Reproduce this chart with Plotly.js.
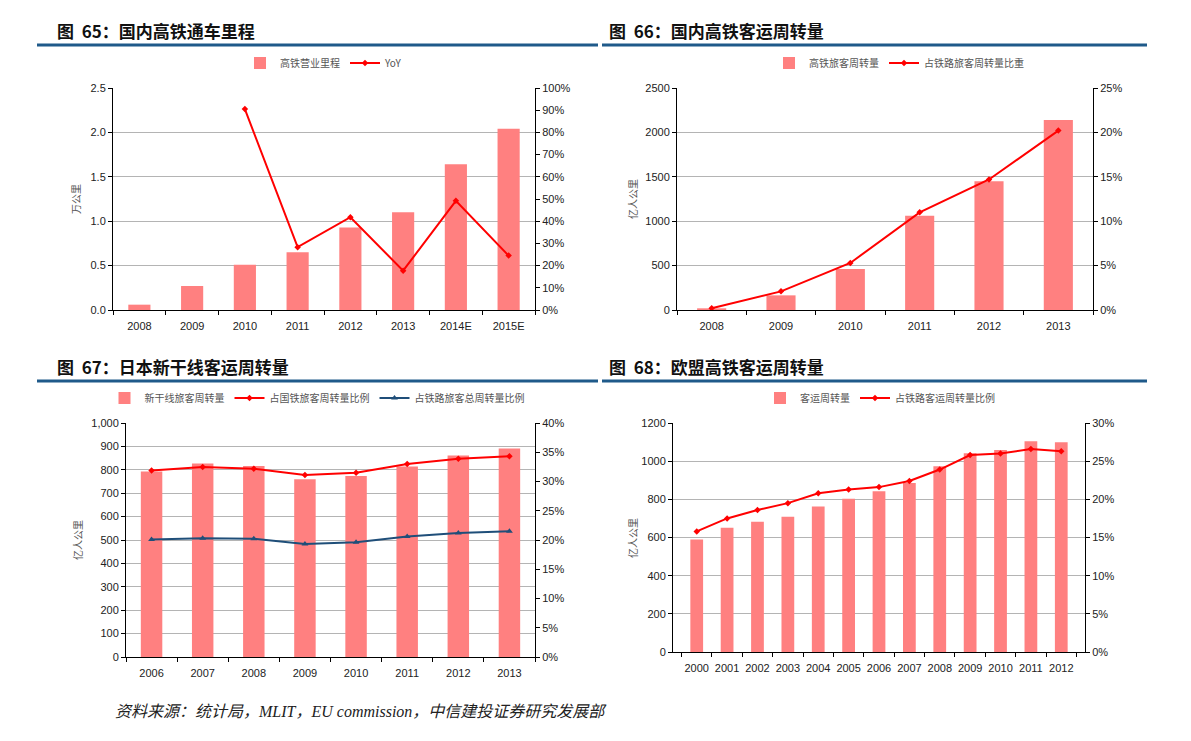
<!DOCTYPE html>
<html>
<head>
<meta charset="utf-8">
<script src="https://cdn.plot.ly/plotly-3.0.1.min.js"></script>
<style>
html,body{margin:0;padding:0;background:#fff;}
#chart{width:1191px;height:741px;}
</style>
</head>
<body>
<div id="chart"></div>
<script>
// ---------- Data ----------
const c65Years = ['2008','2009','2010','2011','2012','2013','2014E','2015E'];
const c65Mileage = [0.06, 0.27, 0.51, 0.65, 0.93, 1.10, 1.64, 2.04];
const c65YoY = [null, null, 90.5, 28.3, 41.8, 17.7, 49.2, 24.5];

const c66Years = ['2008','2009','2010','2011','2012','2013'];
const c66PKM = [19, 165, 462, 1060, 1451, 2139];
const c66Share = [0.2, 2.1, 5.3, 11.0, 14.7, 20.2];

const c67Years = ['2006','2007','2008','2009','2010','2011','2012','2013'];
const c67PKM = [793, 827, 816, 760, 774, 814, 861, 891];
const c67ShareJR = [31.9, 32.5, 32.2, 31.1, 31.5, 33.0, 33.9, 34.3];
const c67ShareRail = [20.1, 20.3, 20.2, 19.3, 19.6, 20.6, 21.2, 21.5];

const c68Years = ['2000','2001','2002','2003','2004','2005','2006','2007','2008','2009','2010','2011','2012'];
const c68PKM = [590, 651, 683, 709, 763, 803, 843, 886, 974, 1041, 1059, 1104, 1099];
const c68Share = [15.8, 17.5, 18.6, 19.5, 20.8, 21.3, 21.6, 22.4, 23.9, 25.8, 26.0, 26.6, 26.3];

// ---------- Helpers ----------
const W = 1191, H = 741;
const px = v => v / W;
const py = v => 1 - v / H;
const xd = (a, b) => [a / W, b / W];
const yd = (top, bot) => [1 - bot / H, 1 - top / H];

const BAR = '#FF8080', RED = '#FF0000', BLUE = '#1F4E79';
const tickFont = {family: 'Liberation Sans, Arial, sans-serif', size: 11, color: '#222'};
const cjk = 'Noto Sans CJK SC, sans-serif';

function xAx(dom, anchor) {
  return {domain: dom, anchor: anchor, type: 'category', showline: true, linecolor: '#000', linewidth: 1,
    ticks: 'outside', tickson: 'boundaries', ticklen: 4, tickcolor: '#000', ticklabelstandoff: 6,
    tickangle: 0, showgrid: false, zeroline: false, tickfont: tickFont, fixedrange: true};
}
function leftY(dom, anchor, range, dtick, fmt) {
  return {domain: dom, anchor: anchor, range: range, dtick: dtick, tick0: 0, tickformat: fmt,
    showline: true, linecolor: '#000', linewidth: 1, ticks: 'outside', ticklen: 4, tickcolor: '#000',
    showgrid: true, gridcolor: '#b4b4b4', gridwidth: 1, zeroline: false, tickfont: tickFont, fixedrange: true};
}
function rightY(overlay, anchor, range, dtick) {
  return {overlaying: overlay, anchor: anchor, side: 'right', range: range, dtick: dtick, tick0: 0,
    ticksuffix: '%', showline: true, linecolor: '#000', linewidth: 1, ticks: 'outside', ticklen: 4,
    tickcolor: '#000', showgrid: false, zeroline: false, tickfont: tickFont, fixedrange: true};
}
function legendAt(xc, yc) {
  return {orientation: 'h', x: xc, y: yc, xanchor: 'center', yanchor: 'middle', xref: 'paper', yref: 'paper',
    font: {family: cjk, size: 10, color: '#555'}, bgcolor: 'rgba(0,0,0,0)', itemwidth: 30,
    traceorder: 'normal', tracegroupgap: 0};
}
function barTr(x, y, name, xa, ya, lg) {
  return {type: 'bar', x: x, y: y, name: name, xaxis: xa, yaxis: ya, legend: lg,
    marker: {color: BAR, line: {width: 0}}, hoverinfo: 'skip'};
}
function lineTr(x, y, name, xa, ya, lg, color, sym, msize) {
  return {type: 'scatter', mode: 'lines+markers', x: x, y: y, name: name, xaxis: xa, yaxis: ya, legend: lg,
    line: {color: color, width: 2}, marker: {color: color, symbol: sym, size: msize},
    connectgaps: false, hoverinfo: 'skip'};
}

const traces = [
  barTr(c65Years, c65Mileage, '高铁营业里程', 'x', 'y', 'legend'),
  lineTr(c65Years, c65YoY, 'YoY', 'x', 'y2', 'legend', RED, 'diamond', 5),

  barTr(c66Years, c66PKM, '高铁旅客周转量', 'x2', 'y3', 'legend2'),
  lineTr(c66Years, c66Share, '占铁路旅客周转量比重', 'x2', 'y4', 'legend2', RED, 'diamond', 5),

  barTr(c67Years, c67PKM, '新干线旅客周转量', 'x3', 'y5', 'legend3'),
  lineTr(c67Years, c67ShareJR, '占国铁旅客周转量比例', 'x3', 'y6', 'legend3', RED, 'diamond', 5),
  lineTr(c67Years, c67ShareRail, '占铁路旅客总周转量比例', 'x3', 'y6', 'legend3', BLUE, 'triangle-up', 6),

  barTr(c68Years, c68PKM, '客运周转量', 'x4', 'y7', 'legend4'),
  lineTr(c68Years, c68Share, '占铁路客运周转量比例', 'x4', 'y8', 'legend4', RED, 'diamond', 5)
];

function titleAnn(text, x, y) {
  return {text: text, x: px(x), y: py(y), xref: 'paper', yref: 'paper', xanchor: 'left', yanchor: 'middle',
    showarrow: false, font: {family: cjk, size: 17, color: '#111', weight: 'bold'}};
}
function yTitleAnn(text, x, y) {
  return {text: text, x: px(x), y: py(y), xref: 'paper', yref: 'paper', xanchor: 'center', yanchor: 'middle',
    textangle: -90, showarrow: false, font: {family: cjk, size: 10, color: '#555'}};
}
function blueLine(x0, x1, y) {
  return {type: 'line', xref: 'paper', yref: 'paper', x0: px(x0), x1: px(x1), y0: py(y), y1: py(y),
    line: {color: '#1F5A8A', width: 3}};
}

const layout = {
  width: W, height: H, margin: {l: 0, r: 0, t: 0, b: 0}, paper_bgcolor: '#fff', plot_bgcolor: '#fff',
  bargap: 0.58, showlegend: true,
  xaxis: xAx(xd(113, 535), 'y'),
  yaxis: leftY(yd(88, 310), 'x', [0, 2.5], 0.5, '.1f'),
  yaxis2: rightY('y', 'x', [0, 100], 10),

  xaxis2: xAx(xd(677, 1093), 'y3'),
  yaxis3: leftY(yd(88, 310), 'x2', [0, 2500], 500, 'd'),
  yaxis4: rightY('y3', 'x2', [0, 25], 5),

  xaxis3: xAx(xd(126, 535), 'y5'),
  yaxis5: leftY(yd(423, 657), 'x3', [0, 1000], 100, ',d'),
  yaxis6: rightY('y5', 'x3', [0, 40], 5),

  xaxis4: xAx(xd(673, 1085), 'y7'),
  yaxis7: leftY(yd(423, 652), 'x4', [0, 1200], 200, 'd'),
  yaxis8: rightY('y7', 'x4', [0, 30], 5),

  legend: legendAt(px(324), py(63)),
  legend2: legendAt(px(899), py(63)),
  legend3: legendAt(px(317), py(398)),
  legend4: legendAt(px(880), py(398)),

  annotations: [
    titleAnn('图\u00a0\u00a065：国内高铁通车里程', 55, 30),
    titleAnn('图\u00a0\u00a066：国内高铁客运周转量', 607, 30),
    titleAnn('图\u00a0\u00a067：日本新干线客运周转量', 55, 366),
    titleAnn('图\u00a0\u00a068：欧盟高铁客运周转量', 607, 366),
    yTitleAnn('万公里', 75, 199),
    yTitleAnn('亿人公里', 632, 199),
    yTitleAnn('亿人公里', 77, 540),
    yTitleAnn('亿人公里', 632, 538),
    {text: '资料来源：统计局，MLIT，EU commission，中信建投证券研究发展部', x: px(113), y: py(711),
      xref: 'paper', yref: 'paper', xanchor: 'left', yanchor: 'middle', showarrow: false,
      font: {family: 'Liberation Serif, Noto Sans CJK SC, serif', size: 16, color: '#222', style: 'italic'}}
  ],
  shapes: [
    blueLine(37, 598, 45), blueLine(602, 1147, 45),
    blueLine(37, 598, 381), blueLine(602, 1147, 381)
  ]
};

Plotly.newPlot('chart', traces, layout, {displayModeBar: false, staticPlot: true});
</script>
</body>
</html>
